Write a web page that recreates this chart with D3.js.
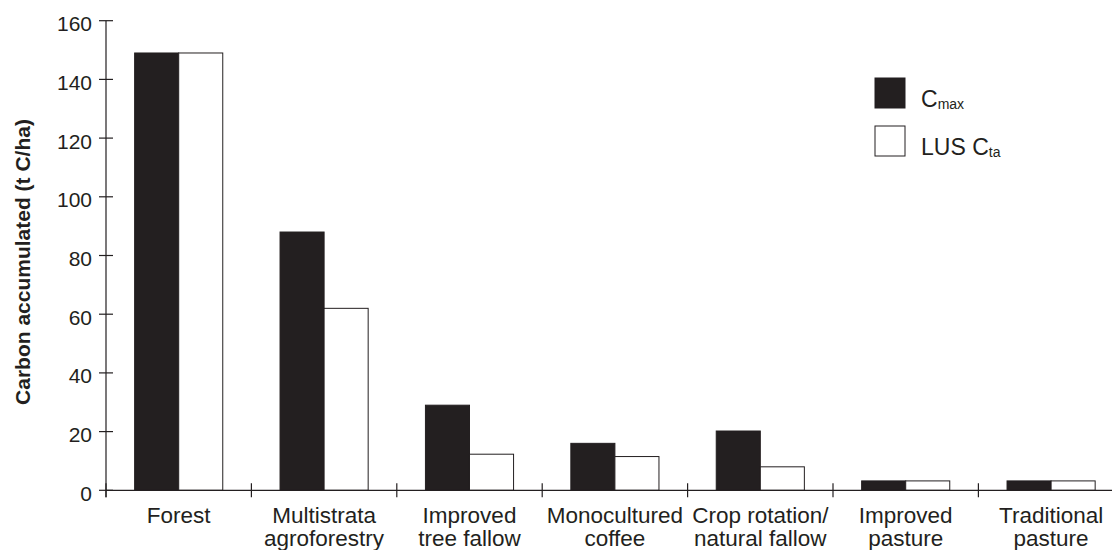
<!DOCTYPE html>
<html>
<head>
<meta charset="utf-8">
<script src="https://cdn.jsdelivr.net/npm/d3@7/dist/d3.min.js"></script>
<style>
  body { margin: 0; background: #fff; }
  svg { display: block; font-family: "Liberation Sans", Arial, Helvetica, sans-serif; }
</style>
</head>
<body>
<div id="chart"></div>
<script>
// land-use systems, label lines
const categories = [
  ['Forest'],
  ['Multistrata', 'agroforestry'],
  ['Improved', 'tree fallow'],
  ['Monocultured', 'coffee'],
  ['Crop rotation/', 'natural fallow'],
  ['Improved', 'pasture'],
  ['Traditional', 'pasture']
];
const cmax = [149, 88, 29, 16, 20.2, 3.2, 3.2];
const lusCta = [149, 62, 12.3, 11.5, 8, 3.2, 3.2];
const yTicks = [0, 20, 40, 60, 80, 100, 120, 140, 160];

const W = 1112, H = 550;
const ink = '#231f20';
const margin = { top: 20.7, left: 106, bottom: 60 };
const bandW = 145.4;

const svg = d3.select('#chart').append('svg')
  .attr('width', W).attr('height', H);

const keys = ['cmax', 'lus'];
const rows = categories.map((c, i) => ({ id: i, lines: c, cmax: cmax[i], lus: lusCta[i] }));

const x0 = d3.scaleBand().domain(rows.map(d => d.id))
  .range([margin.left, margin.left + bandW * rows.length]).padding(0);
const x1 = d3.scaleBand().domain(keys).range([0, x0.bandwidth()])
  .paddingInner(0).paddingOuter(0.65);
const y = d3.scaleLinear().domain([0, 160]).range([490.3, margin.top]);

// bars
const groups = svg.append('g').selectAll('g')
  .data(rows).enter().append('g')
  .attr('transform', d => `translate(${x0(d.id)},0)`);

groups.selectAll('rect')
  .data(d => keys.map(k => ({ key: k, value: d[k] })))
  .enter().append('rect')
  .attr('x', d => x1(d.key))
  .attr('y', d => y(d.value))
  .attr('width', x1.bandwidth())
  .attr('height', d => y(0) - y(d.value))
  .attr('fill', d => d.key === 'cmax' ? ink : '#fff')
  .attr('stroke', ink)
  .attr('stroke-width', 1);

// y axis
const yAxis = svg.append('g').attr('transform', `translate(${margin.left},0)`);
yAxis.append('line')
  .attr('x1', 0).attr('x2', 0).attr('y1', y(160)).attr('y2', y(0) + 7)
  .attr('stroke', ink).attr('stroke-width', 1.2);
yAxis.selectAll('.yt').data(yTicks).enter().append('line')
  .attr('x1', -7).attr('x2', 7).attr('y1', d => y(d)).attr('y2', d => y(d))
  .attr('stroke', ink).attr('stroke-width', 1.2);
yAxis.selectAll('.yl').data(yTicks).enter().append('text')
  .attr('x', -14).attr('y', d => y(d)).attr('dy', '0.5em')
  .attr('text-anchor', 'end').attr('font-size', 21).attr('fill', ink)
  .text(d => d);

// x axis
const xAxis = svg.append('g').attr('transform', `translate(0,${y(0)})`);
xAxis.append('line')
  .attr('x1', margin.left).attr('x2', W).attr('y1', 0).attr('y2', 0)
  .attr('stroke', ink).attr('stroke-width', 1.2);
xAxis.selectAll('.xt').data(rows).enter().append('line')
  .attr('x1', d => x0(d.id)).attr('x2', d => x0(d.id))
  .attr('y1', -7).attr('y2', 7)
  .attr('stroke', ink).attr('stroke-width', 1.2);
const labels = xAxis.selectAll('.xl').data(rows).enter().append('text')
  .attr('text-anchor', 'middle').attr('font-size', 22.5).attr('fill', ink)
  .attr('transform', d => `translate(${x0(d.id) + x0.bandwidth() / 2},33)`);
labels.selectAll('tspan').data(d => d.lines).enter().append('tspan')
  .attr('x', 0).attr('y', (d, i) => i * 23)
  .text(d => d);

// y title
svg.append('text')
  .attr('transform', 'translate(30,262) rotate(-90)')
  .attr('text-anchor', 'middle').attr('font-size', 21).attr('font-weight', 'bold')
  .attr('fill', ink)
  .text('Carbon accumulated (t C/ha)');

// legend
const legendItems = [
  { main: 'C', sub: 'max', fill: ink },
  { main: 'LUS C', sub: 'ta', fill: '#fff' }
];
const legend = svg.append('g').attr('transform', 'translate(875,78)');
const li = legend.selectAll('g').data(legendItems).enter().append('g')
  .attr('transform', (d, i) => `translate(0,${i * 48})`);
li.append('rect')
  .attr('width', 30).attr('height', 30)
  .attr('fill', d => d.fill).attr('stroke', ink).attr('stroke-width', 1);
const lt = li.append('text').attr('x', 46).attr('y', 29)
  .attr('font-size', 23).attr('fill', ink);
lt.append('tspan').text(d => d.main);
lt.append('tspan').attr('font-size', 14).attr('dy', 2).text(d => d.sub);
</script>
</body>
</html>
